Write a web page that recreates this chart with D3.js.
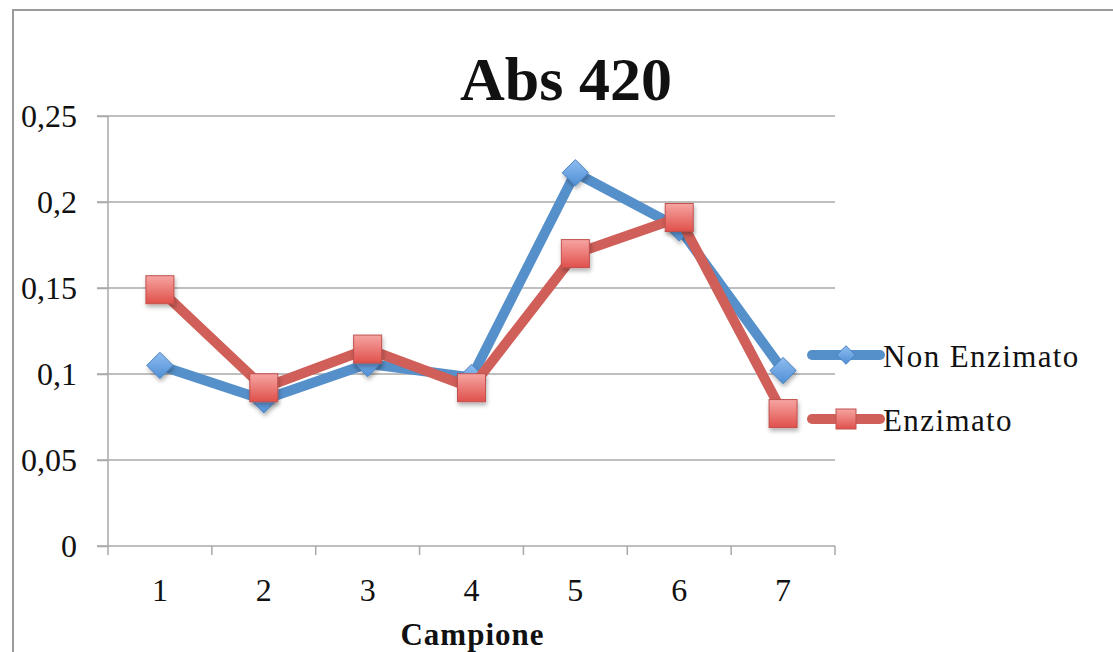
<!DOCTYPE html>
<html>
<head>
<meta charset="utf-8">
<script src="https://cdn.jsdelivr.net/npm/d3@7"></script>
<style>
  body { margin: 0; background: #fff; }
  text { font-family: "Liberation Serif", serif; fill: #111; }
</style>
</head>
<body>
<script>
// data
var categories = ["1", "2", "3", "4", "5", "6", "7"];
var nonEnzimato = [0.105, 0.085, 0.106, 0.098, 0.217, 0.185, 0.102];
var enzimato = [0.149, 0.092, 0.1145, 0.092, 0.170, 0.191, 0.077];
var yTicks = [0, 0.05, 0.1, 0.15, 0.2, 0.25];
var seriesNames = ["Non Enzimato", "Enzimato"];

var width = 1113, height = 652;
var margin = {left: 108, right: 278, top: 116, bottom: 106};
var w = width - margin.left - margin.right;
var h = height - margin.top - margin.bottom;

var svg = d3.select("body").append("svg").attr("width", width).attr("height", height);

var defs = svg.append("defs");
var gRed = defs.append("linearGradient").attr("id", "gRed").attr("x1", 0).attr("y1", 0).attr("x2", 0).attr("y2", 1);
gRed.append("stop").attr("offset", "0%").attr("stop-color", "#f6a5a2");
gRed.append("stop").attr("offset", "100%").attr("stop-color", "#e0504b");
var gBlue = defs.append("linearGradient").attr("id", "gBlue").attr("x1", 0).attr("y1", 0).attr("x2", 0).attr("y2", 1);
gBlue.append("stop").attr("offset", "0%").attr("stop-color", "#8fbdf0");
gBlue.append("stop").attr("offset", "100%").attr("stop-color", "#4f8fd6");
var shadow = defs.append("filter").attr("id", "shadow").attr("x", "-30%").attr("y", "-30%").attr("width", "170%").attr("height", "170%");
shadow.append("feDropShadow").attr("dx", 1).attr("dy", 3).attr("stdDeviation", 2).attr("flood-color", "#000").attr("flood-opacity", 0.3);

// outer frame
svg.append("rect").attr("x", 13).attr("y", 10).attr("width", 1120).attr("height", 700)
  .attr("fill", "none").attr("stroke", "#9a9a9a").attr("stroke-width", 2);

var x = d3.scaleBand().domain(categories).range([0, w]).padding(0);
var y = d3.scaleLinear().domain([0, 0.25]).range([h, 0]);

var chartGroup = svg.append("g").attr("transform", "translate(" + margin.left + "," + margin.top + ")");

// gridlines
chartGroup.selectAll(".grid").data(yTicks.slice(1)).enter().append("line")
  .attr("x1", -11).attr("x2", w)
  .attr("y1", function(d){ return y(d); }).attr("y2", function(d){ return y(d); })
  .attr("stroke", "#a8a8a8").attr("stroke-width", 1.5);

// y axis
var yAxis = d3.axisLeft(y).tickValues(yTicks).tickSize(11).tickPadding(20)
  .tickFormat(function(d){ return String(d).replace(".", ","); });
var yg = chartGroup.append("g").call(yAxis);
yg.select(".domain").remove();
yg.selectAll(".tick line").attr("stroke", "#a8a8a8").attr("stroke-width", 1.5);
yg.selectAll(".tick text").attr("font-size", 32).attr("font-family", "Liberation Serif").attr("fill", "#111").attr("dy", "0.33em");
chartGroup.append("line").attr("x1", 0).attr("x2", 0).attr("y1", 0).attr("y2", h + 1)
  .attr("stroke", "#a8a8a8").attr("stroke-width", 1.5);

// x axis
var xg = chartGroup.append("g").attr("transform", "translate(0," + h + ")");
xg.append("line").attr("x1", -11).attr("x2", w).attr("stroke", "#a8a8a8").attr("stroke-width", 1.5);
var edges = d3.range(categories.length + 1).map(function(i){ return i * x.step(); });
xg.selectAll(".xt").data(edges).enter().append("line")
  .attr("x1", function(d){ return d; }).attr("x2", function(d){ return d; })
  .attr("y1", 0).attr("y2", 9).attr("stroke", "#a8a8a8").attr("stroke-width", 1.5);
xg.selectAll(".xl").data(categories).enter().append("text")
  .attr("x", function(d){ return x(d) + x.bandwidth() / 2; })
  .attr("y", 55).attr("text-anchor", "middle").attr("font-size", 32)
  .text(function(d){ return d; });

// axis title
svg.append("text").attr("x", margin.left + w / 2 + 1).attr("y", 645)
  .attr("text-anchor", "middle").attr("font-size", 31).attr("font-weight", "bold")
  .attr("letter-spacing", 1).text("Campione");

// chart title
svg.append("text").attr("x", 566).attr("y", 100)
  .attr("text-anchor", "middle").attr("font-size", 62).attr("font-weight", "bold")
  .text("Abs 420");

var cx = function(d, i){ return x(categories[i]) + x.bandwidth() / 2; };
var line = d3.line().x(function(d, i){ return cx(d, i); }).y(function(d){ return y(d); });

var blueLine = "#5690ca", redLine = "#cf5f58";

// Non Enzimato
chartGroup.append("path").attr("d", line(nonEnzimato)).attr("fill", "none")
  .attr("stroke", blueLine).attr("stroke-width", 10).attr("stroke-linejoin", "round");
var diamond = d3.symbol().type(d3.symbolDiamond2).size(440);
chartGroup.selectAll(".dia").data(nonEnzimato).enter().append("path")
  .attr("d", diamond)
  .attr("transform", function(d, i){ return "translate(" + cx(d, i) + "," + y(d) + ")"; })
  .attr("fill", "url(#gBlue)").attr("stroke", "#4a82c0").attr("stroke-width", 1)
  .attr("filter", "url(#shadow)");

// Enzimato
chartGroup.append("path").attr("d", line(enzimato)).attr("fill", "none")
  .attr("stroke", redLine).attr("stroke-width", 10).attr("stroke-linejoin", "round");
var sq = 28;
chartGroup.selectAll(".sq").data(enzimato).enter().append("rect")
  .attr("x", function(d, i){ return cx(d, i) - sq / 2; })
  .attr("y", function(d){ return y(d) - sq / 2; })
  .attr("width", sq).attr("height", sq)
  .attr("fill", "url(#gRed)").attr("stroke", "#c0504d").attr("stroke-width", 1)
  .attr("filter", "url(#shadow)");

// legend
var legend = svg.append("g").attr("transform", "translate(812,355)");
var legRows = [
  {name: seriesNames[0], color: blueLine, dy: 0},
  {name: seriesNames[1], color: redLine, dy: 64}
];
legRows.forEach(function(r, i){
  var g = legend.append("g").attr("transform", "translate(0," + r.dy + ")");
  g.append("line").attr("x1", 0).attr("x2", 68).attr("stroke", r.color)
    .attr("stroke-width", 10).attr("stroke-linecap", "round");
  if (i === 0) {
    g.append("path").attr("d", d3.symbol().type(d3.symbolDiamond2).size(220))
      .attr("transform", "translate(34,0)")
      .attr("fill", "url(#gBlue)").attr("stroke", "#4a82c0");
  } else {
    g.append("rect").attr("x", 24).attr("y", -10).attr("width", 20).attr("height", 20)
      .attr("fill", "url(#gRed)").attr("stroke", "#c0504d");
  }
  g.append("text").attr("x", 71).attr("y", 12).attr("font-size", 31)
    .attr("letter-spacing", 1.4).text(r.name);
});
</script>
</body>
</html>
